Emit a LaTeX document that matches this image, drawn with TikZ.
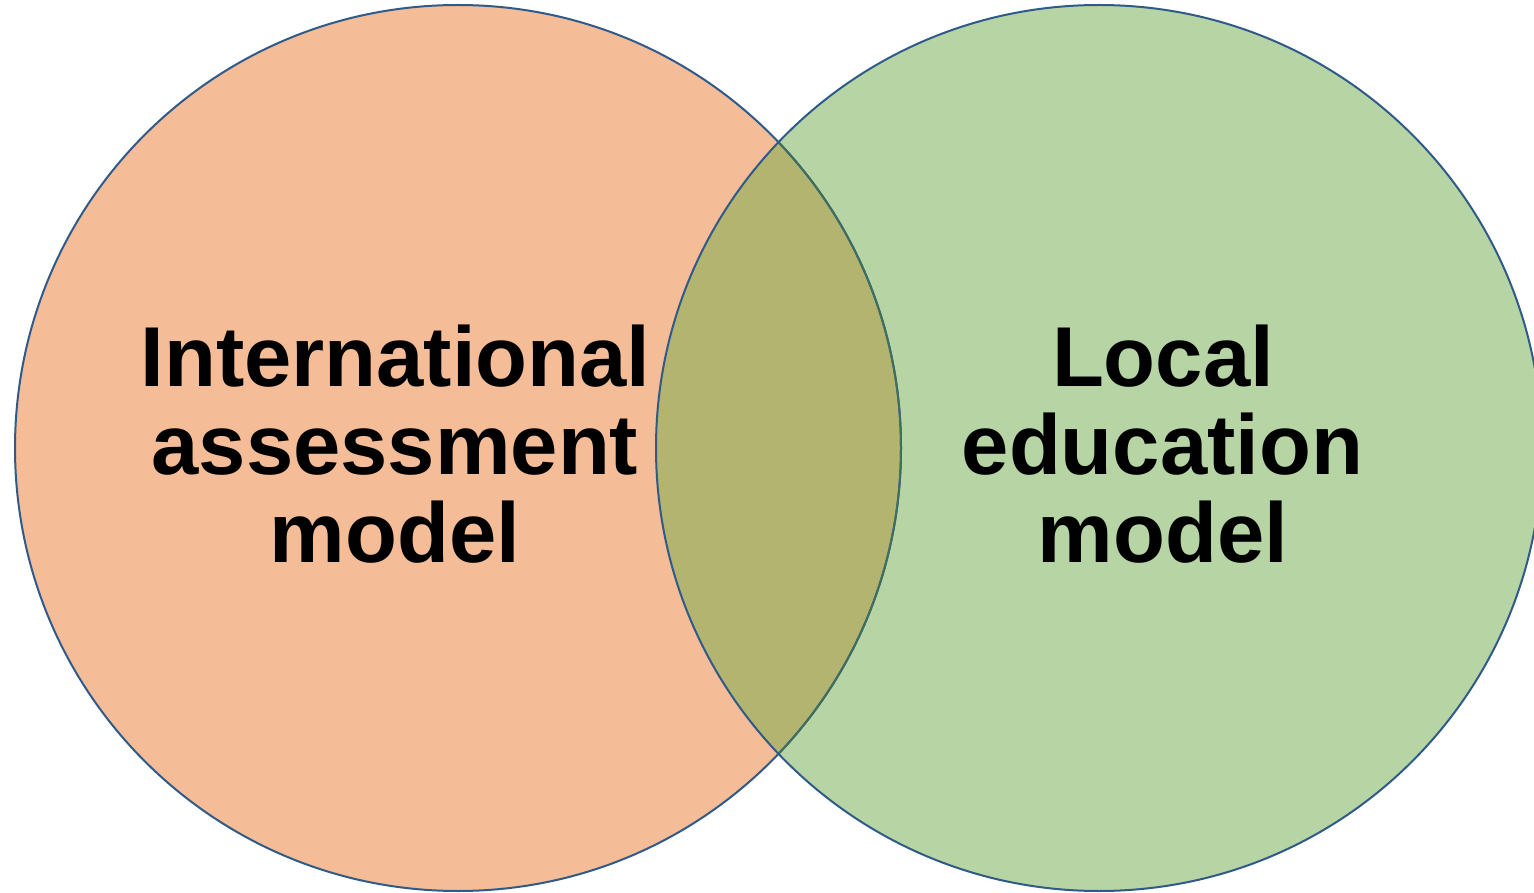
\documentclass[tikz,border=0pt]{standalone}
\usepackage{fontspec}
\setmainfont{Liberation Sans}
\definecolor{leftfill}{HTML}{F4BC97}
\definecolor{rightfill}{HTML}{B7D5A4}
\definecolor{overlapfill}{HTML}{B3B46F}
\definecolor{rim}{HTML}{2F5A8A}
\definecolor{rimgreen}{HTML}{3F6E5E}
\begin{document}
\begin{tikzpicture}[x=1pt,y=-1pt,
  rimline/.style={line width=2pt},
  label/.style={anchor=base,inner sep=0pt,font=\fontsize{85}{88}\bfseries\selectfont}]
\useasboundingbox (0,0) rectangle (1534,893);
\coordinate (cl) at (458,448);
\coordinate (cr) at (1099,448);
\fill[leftfill] (cl) circle[radius=443];
\fill[rightfill] (cr) circle[radius=443];
\begin{scope}
  \clip (cl) circle[radius=443];
  \fill[overlapfill] (cr) circle[radius=443];
\end{scope}
\draw[rim,rimline] (cl) circle[radius=443];
\begin{scope}
  \clip (cr) circle[radius=443];
  \draw[rimgreen,rimline] (cl) circle[radius=443];
\end{scope}
\draw[rim,rimline] (cr) circle[radius=443];
\node[label] (l1) at (395.5,386) {International};
\node[label] (l2) at (395,474) {assessment};
\node[label] (l3) at (395,562) {model};
\node[label] (r1) at (1163,386) {Local};
\node[label] (r2) at (1162.5,474) {education};
\node[label] (r3) at (1163,562) {model};
\end{tikzpicture}
\end{document}
